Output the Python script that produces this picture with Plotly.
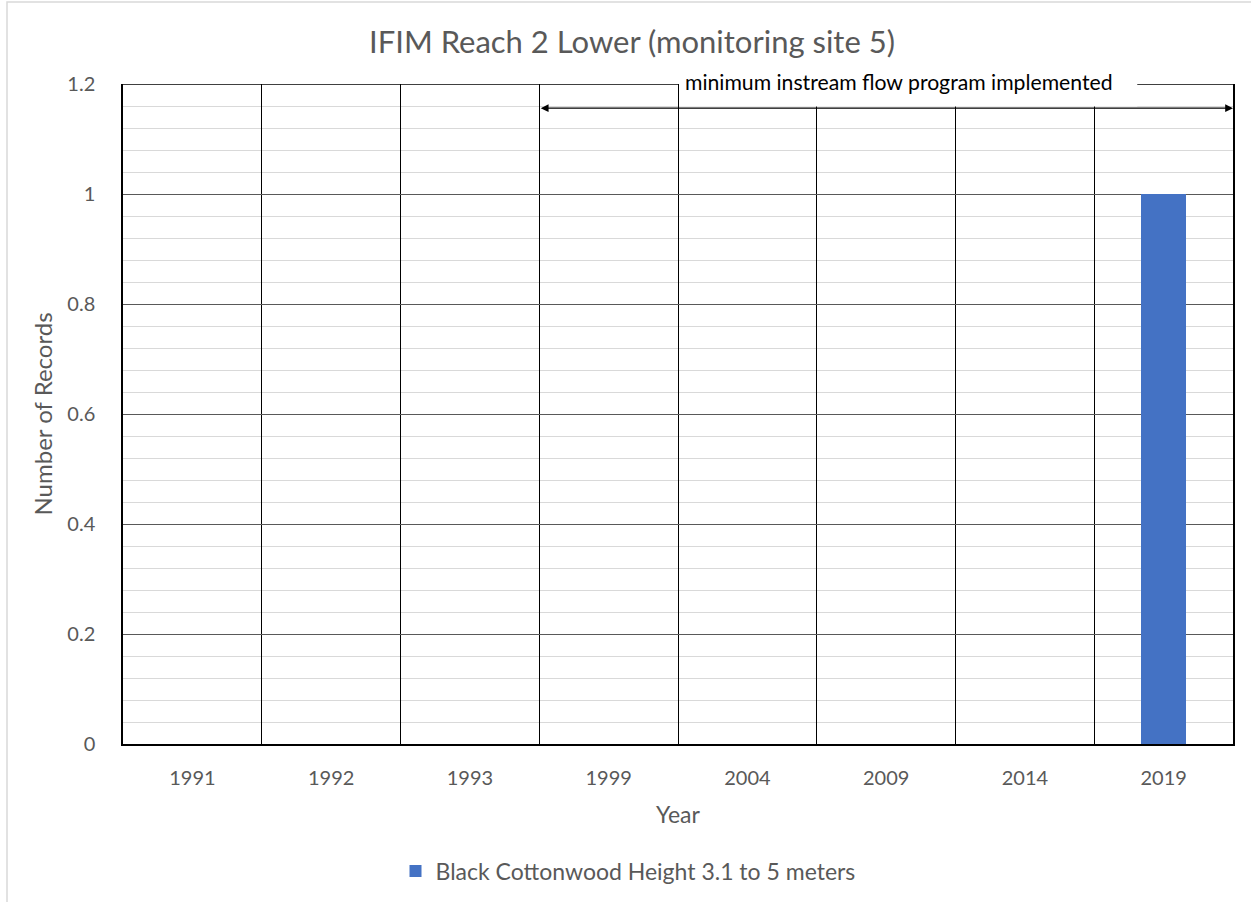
import plotly.graph_objects as go

years = ["1991", "1992", "1993", "1999", "2004", "2009", "2014", "2019"]
records = [0, 0, 0, 0, 0, 0, 0, 1]
series_name = "Black Cottonwood Height 3.1 to 5 meters"
title_text = "IFIM Reach 2 Lower (monitoring site 5)"
note_text = "minimum instream flow program implemented"

FONT = "Lato"
GREY = "#595959"

fig = go.Figure()
fig.add_trace(go.Bar(
    x=years, y=records, name=series_name,
    marker=dict(color="#4472C4", line=dict(width=0)),
    width=0.325,
))

fig.update_layout(
    width=1251, height=902,
    margin=dict(l=123, r=18, t=84, b=158, autoexpand=False),
    paper_bgcolor="white", plot_bgcolor="white",
    font=dict(family=FONT, color=GREY, size=20),
    title=dict(text=title_text, x=632 / 1251, xanchor="center",
               y=1 - 42 / 902, yanchor="middle",
               font=dict(size=31, color=GREY, family=FONT)),
    showlegend=True,
    legend=dict(orientation="h", x=505 / 1110, xanchor="center",
                y=(744 - 871) / 660, yanchor="middle",
                font=dict(size=23, color=GREY)),
    bargap=0,
)

fig.update_xaxes(
    type="category", tickson="boundaries", automargin=False,
    range=[-0.5, len(years) - 0.5],
    showgrid=True, gridcolor="black", gridwidth=1,
    showline=True, linecolor="black", linewidth=1.5, mirror=False,
    ticks="", ticklabelstandoff=15,
    tickfont=dict(size=20, color=GREY),
    title=dict(text="Year", font=dict(size=23, color=GREY), standoff=19),
)
fig.update_yaxes(
    range=[0, 1.2], dtick=0.2, tick0=0, automargin=False,
    showgrid=True, gridcolor=GREY, gridwidth=1,
    minor=dict(dtick=0.04, showgrid=True, gridcolor="#d9d9d9", gridwidth=1),
    showline=True, linecolor="black", linewidth=1.5, mirror=True,
    ticks="", ticklabelstandoff=22, zeroline=False,
    tickfont=dict(size=20, color=GREY),
    title=dict(text="Number of Records", font=dict(size=24, color=GREY), standoff=8),
)

# chart area border
fig.add_shape(type="rect", xref="paper", yref="paper",
              x0=(7 - 123) / 1110, x1=1.2, y0=-0.4, y1=(744 - 2) / 660,
              line=dict(color="#d9d9d9", width=1.5), fillcolor="rgba(0,0,0,0)",
              layer="below")

# white text box covering top gridline area
fig.add_shape(type="rect", xref="x", yref="y",
              x0=3.51, x1=6.81, y0=1.159, y1=1.22,
              line=dict(width=0), fillcolor="white", layer="above")

# top border segments (bracket)
fig.add_shape(type="line", xref="x", yref="y", x0=-0.5, x1=3.5, y0=1.2, y1=1.2,
              line=dict(color="black", width=1.5), layer="above")
fig.add_shape(type="line", xref="x", yref="y", x0=6.81, x1=7.5, y0=1.2, y1=1.2,
              line=dict(color="black", width=1.5), layer="above")

fig.add_annotation(text=note_text, xref="x", yref="paper", x=5.09,
                   y=(744 - 82) / 660,
                   showarrow=False, font=dict(size=21.2, color="black", family=FONT),
                   yanchor="middle")

# double-headed arrow
fig.add_annotation(x=7.5, y=1.156, ax=2.5, ay=1.156, xref="x", yref="y",
                   axref="x", ayref="y", text="", showarrow=True,
                   arrowhead=2, startarrowhead=2, arrowside="end+start",
                   arrowsize=1.2, startarrowsize=1.2,
                   arrowwidth=1.3, arrowcolor="black", standoff=0, startstandoff=0)

fig.write_html("out.html", config={"displayModeBar": False},
               post_script="document.body.style.margin='0';")
